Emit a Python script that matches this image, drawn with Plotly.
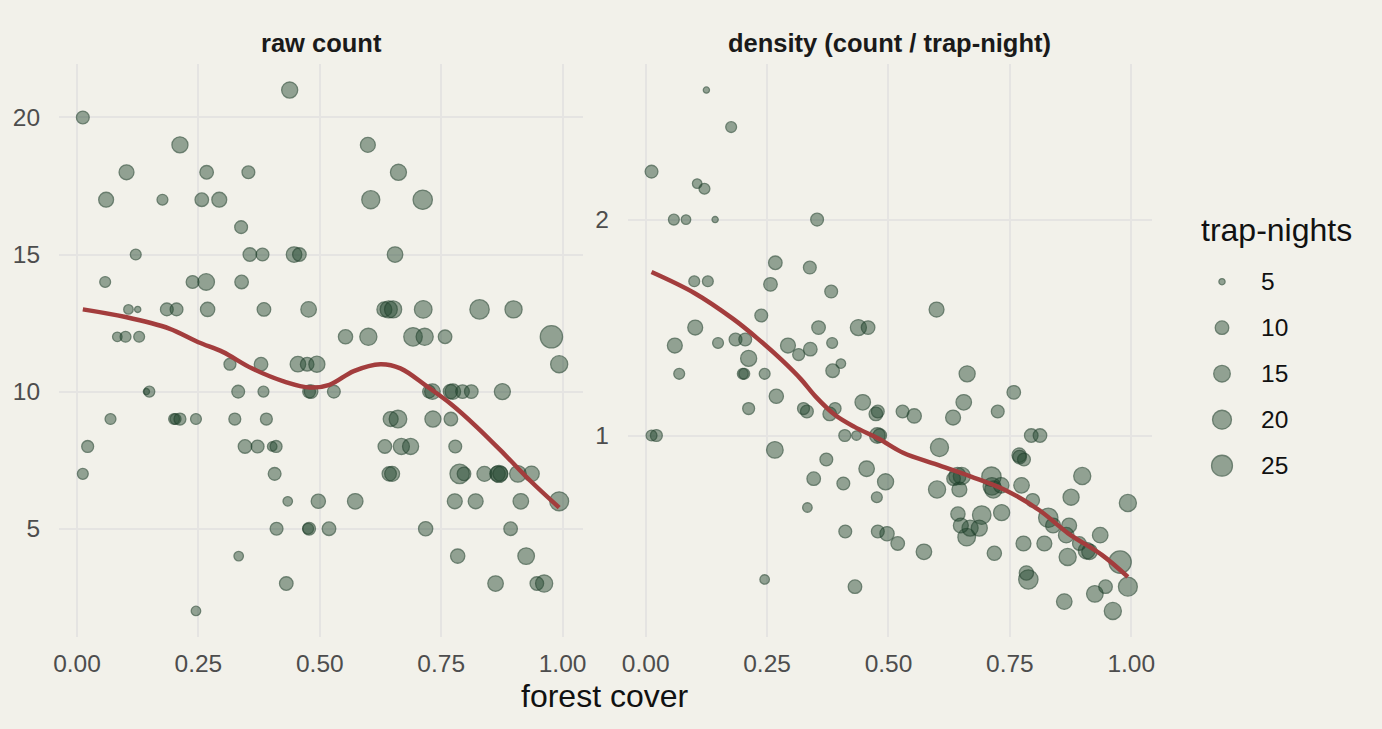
import math
import plotly.graph_objects as go

# ---------------- data ----------------
forest_cover = [
    0.438,
    0.012,
    0.212, 0.599,
    0.102, 0.267, 0.353, 0.662,
    0.060, 0.176, 0.257, 0.293, 0.605, 0.712,
    0.338,
    0.121, 0.356, 0.382, 0.447, 0.458, 0.655,
    0.058, 0.238, 0.266, 0.339,
    0.106, 0.125, 0.185, 0.205, 0.269, 0.385, 0.477, 0.633, 0.642, 0.651, 0.713, 0.829, 0.899,
    0.083, 0.100, 0.128, 0.553, 0.600, 0.692, 0.716, 0.758, 0.977,
    0.315, 0.379, 0.455, 0.474, 0.494, 0.993,
    0.143, 0.149, 0.332, 0.384, 0.478, 0.482, 0.529, 0.725, 0.732, 0.769, 0.774, 0.794, 0.812, 0.876,
    0.069, 0.200, 0.203, 0.212, 0.245, 0.325, 0.390, 0.646, 0.661, 0.733, 0.770,
    0.022, 0.346, 0.372, 0.402, 0.410, 0.634, 0.668, 0.687, 0.779,
    0.012, 0.407, 0.643, 0.649, 0.788, 0.797, 0.839, 0.866, 0.869, 0.872, 0.908, 0.936,
    0.434, 0.497, 0.573, 0.778, 0.821, 0.914, 0.993,
    0.411, 0.476, 0.478, 0.519, 0.718, 0.893,
    0.333, 0.784, 0.925,
    0.431, 0.862, 0.947, 0.962,
    0.245,
]
count = [
    21,
    20,
    19, 19,
    18, 18, 18, 18,
    17, 17, 17, 17, 17, 17,
    16,
    15, 15, 15, 15, 15, 15,
    14, 14, 14, 14,
    13, 13, 13, 13, 13, 13, 13, 13, 13, 13, 13, 13, 13,
    12, 12, 12, 12, 12, 12, 12, 12, 12,
    11, 11, 11, 11, 11, 11,
    10, 10, 10, 10, 10, 10, 10, 10, 10, 10, 10, 10, 10, 10,
    9, 9, 9, 9, 9, 9, 9, 9, 9, 9, 9,
    8, 8, 8, 8, 8, 8, 8, 8, 8,
    7, 7, 7, 7, 7, 7, 7, 7, 7, 7, 7, 7,
    6, 6, 6, 6, 6, 6, 6,
    5, 5, 5, 5, 5, 5,
    4, 4, 4,
    3, 3, 3, 3,
    2,
]
trap_nights = [
    14,
    9,
    14, 12,
    12, 10, 9, 14,
    12, 7, 10, 12, 18, 21,
    9,
    7, 10, 9, 13, 10, 13,
    7, 9, 15, 10,
    6, 5, 9, 9, 11, 10, 13, 12, 16, 16, 17, 21, 16,
    6, 7, 7, 11, 16, 19, 16, 10, 29,
    8, 10, 13, 10, 14, 16,
    5, 7, 9, 7, 9, 10, 9, 9, 13, 11, 13, 10, 10, 14,
    7, 7, 7, 8, 7, 8, 8, 12, 17, 14, 10,
    8, 10, 9, 6, 8, 10, 14, 14, 9,
    7, 9, 11, 12, 21, 10, 12, 13, 16, 12, 15, 13,
    6, 11, 13, 12, 12, 13, 20,
    9, 7, 9, 10, 11, 10,
    6, 11, 15,
    10, 13, 10, 16,
    6,
]
density = [c / t for c, t in zip(count, trap_nights)]

# smoothed trend lines
smooth_x_raw = [0.012, 0.10, 0.19, 0.25, 0.30, 0.36, 0.43, 0.48, 0.52, 0.57, 0.625, 0.666, 0.72, 0.77, 0.824, 0.88, 0.934, 0.993]
smooth_y_raw = [13.0, 12.72, 12.3, 11.8, 11.45, 10.85, 10.35, 10.15, 10.25, 10.75, 11.0, 10.85, 10.2, 9.55, 8.7, 7.72, 6.74, 5.77]
smooth_x_dens = [0.012, 0.10, 0.18, 0.23, 0.28, 0.32, 0.35, 0.39, 0.43, 0.48, 0.53, 0.60, 0.67, 0.74, 0.81, 0.87, 0.94, 0.993]
smooth_y_dens = [1.757, 1.66, 1.54, 1.45, 1.35, 1.26, 1.18, 1.095, 1.04, 0.985, 0.92, 0.865, 0.81, 0.748, 0.655, 0.547, 0.446, 0.345]

x_tickvals = [0, 0.25, 0.5, 0.75, 1.0]
x_ticktext = ["0.00", "0.25", "0.50", "0.75", "1.00"]
raw_tickvals = [5, 10, 15, 20]
dens_tickvals = [1, 2]
legend_values = [5, 10, 15, 20, 25]

panel_titles = ["raw count", "density (count / trap-night)"]
x_title = "forest cover"
legend_title = "trap-nights"

# ---------------- styling ----------------
W, H = 1382, 729
BG = "#F2F1EA"
GRID = "#E5E4E2"
PT_FILL = "rgba(34,70,46,0.66)"
PT_LINE = "rgba(28,60,40,0.85)"
LINE_COL = "#A33D3D"
FONT = "Liberation Sans, Arial, sans-serif"
TICK_SIZE = 24.5
TITLE_SIZE = 32
STRIP_SIZE = 25.5

tn_min, tn_max = min(trap_nights), max(trap_nights)


def size_px(v):
    return 6.2 + 16.1 * math.sqrt(max(v - tn_min, 0) / (tn_max - tn_min))


def expand(lo, hi, f=0.05):
    d = (hi - lo) * f
    return [lo - d, hi + d]


x_range = expand(min(forest_cover), max(forest_cover))
raw_range = expand(min(count), max(count))
dens_range = expand(min(density), max(density))

# panel geometry (pixels)
L1, R1 = 59, 583
L2, R2 = 627.7, 1151.7
TOP, BOT = 64, 637

fig = go.Figure()

marker = dict(
    size=[size_px(t) for t in trap_nights],
    sizemode="diameter",
    color=PT_FILL,
    line=dict(color=PT_LINE, width=1.3),
)

fig.add_trace(go.Scatter(x=forest_cover, y=count, mode="markers", marker=marker,
                         xaxis="x", yaxis="y", showlegend=False, hoverinfo="skip"))
fig.add_trace(go.Scatter(x=smooth_x_raw, y=smooth_y_raw, mode="lines",
                         line=dict(color=LINE_COL, width=4.5, shape="spline", smoothing=1.0),
                         xaxis="x", yaxis="y", showlegend=False, hoverinfo="skip"))
fig.add_trace(go.Scatter(x=forest_cover, y=density, mode="markers", marker=marker,
                         xaxis="x2", yaxis="y2", showlegend=False, hoverinfo="skip"))
fig.add_trace(go.Scatter(x=smooth_x_dens, y=smooth_y_dens, mode="lines",
                         line=dict(color=LINE_COL, width=4.5, shape="spline", smoothing=1.0),
                         xaxis="x2", yaxis="y2", showlegend=False, hoverinfo="skip"))

# manual size legend (keys drawn on their own hidden axis)
LEG_X0, LEG_X1 = 1200, 1244
LEG_T, LEG_B = 258, 490
first_y, step_px = 281.7, 46.0
units_per_px = (legend_values[1] - legend_values[0]) / step_px
leg_top_val = legend_values[0] - (first_y - LEG_T) * units_per_px
leg_bot_val = legend_values[0] + (LEG_B - first_y) * units_per_px

fig.add_trace(go.Scatter(
    x=[0.5] * len(legend_values), y=legend_values, mode="markers",
    marker=dict(size=[size_px(v) for v in legend_values], sizemode="diameter",
                color=PT_FILL, line=dict(color=PT_LINE, width=1.3)),
    xaxis="x3", yaxis="y3", showlegend=False, hoverinfo="skip", cliponaxis=False))

tickfont = dict(family=FONT, size=TICK_SIZE, color="#4D4D4D")
common_x = dict(range=x_range, tickvals=x_tickvals, ticktext=x_ticktext, showgrid=True,
                gridcolor=GRID, gridwidth=2.4, zeroline=False, showline=False, automargin=False,
                ticks="outside", ticklen=5, tickcolor="rgba(0,0,0,0)", tickfont=tickfont)
common_y = dict(showgrid=True, gridcolor=GRID, gridwidth=2.4, zeroline=False, showline=False, automargin=False,
                ticks="outside", ticklen=13, tickcolor="rgba(0,0,0,0)", tickfont=tickfont)

ydom = [1 - BOT / H, 1 - TOP / H]

annotations = [
    dict(text="<b>%s</b>" % panel_titles[0], x=(L1 + R1) / 2 / W, y=1 - 43 / H, xref="paper", yref="paper",
         showarrow=False, font=dict(family=FONT, size=STRIP_SIZE, color="#1A1A1A"), xanchor="center", yanchor="middle"),
    dict(text="<b>%s</b>" % panel_titles[1], x=(L2 + R2) / 2 / W, y=1 - 43 / H, xref="paper", yref="paper",
         showarrow=False, font=dict(family=FONT, size=STRIP_SIZE, color="#1A1A1A"), xanchor="center", yanchor="middle"),
    dict(text=x_title, x=(L1 + R2) / 2 / W, y=1 - 696 / H, xref="paper", yref="paper",
         showarrow=False, font=dict(family=FONT, size=TITLE_SIZE, color="#111111"), xanchor="center", yanchor="middle"),
    dict(text=legend_title, x=1199 / W, y=1 - 230 / H, xref="paper", yref="paper",
         showarrow=False, font=dict(family=FONT, size=TITLE_SIZE, color="#111111"), xanchor="left", yanchor="middle"),
]
for v in legend_values:
    ypx = first_y + (v - legend_values[0]) / units_per_px
    annotations.append(dict(text=str(v), x=1259 / W, y=1 - ypx / H, xref="paper", yref="paper",
                            showarrow=False, font=dict(family=FONT, size=TICK_SIZE, color="#111111"),
                            xanchor="left", yanchor="middle"))

fig.update_layout(
    width=W, height=H,
    margin=dict(l=0, r=0, t=0, b=0),
    paper_bgcolor=BG, plot_bgcolor=BG,
    font=dict(family=FONT),
    xaxis=dict(domain=[L1 / W, R1 / W], anchor="y", **common_x),
    yaxis=dict(domain=ydom, anchor="x", range=raw_range, tickvals=raw_tickvals, **common_y),
    xaxis2=dict(domain=[L2 / W, R2 / W], anchor="y2", **common_x),
    yaxis2=dict(domain=ydom, anchor="x2", range=dens_range, tickvals=dens_tickvals, **common_y),
    xaxis3=dict(domain=[LEG_X0 / W, LEG_X1 / W], anchor="y3", range=[0, 1], visible=False),
    yaxis3=dict(domain=[1 - LEG_B / H, 1 - LEG_T / H], anchor="x3", range=[leg_bot_val, leg_top_val], visible=False),
    annotations=annotations,
)

fig.write_html("out.html")
